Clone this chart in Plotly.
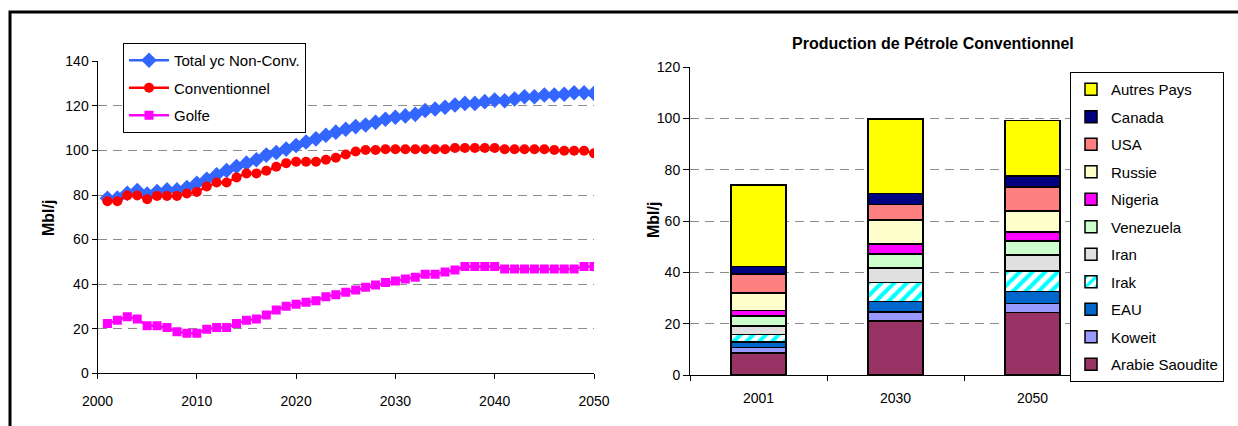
import plotly.graph_objects as go

years = [2001, 2002, 2003, 2004, 2005, 2006, 2007, 2008, 2009, 2010,
         2011, 2012, 2013, 2014, 2015, 2016, 2017, 2018, 2019, 2020,
         2021, 2022, 2023, 2024, 2025, 2026, 2027, 2028, 2029, 2030,
         2031, 2032, 2033, 2034, 2035, 2036, 2037, 2038, 2039, 2040,
         2041, 2042, 2043, 2044, 2045, 2046, 2047, 2048, 2049, 2050]

total_nc = [78.5, 78.6, 80.8, 82.0, 80.4, 81.6, 82.3, 82.3, 83.4, 85.3,
            87.1, 89.1, 91.0, 92.8, 94.3, 95.8, 97.9, 99.1, 100.6, 102.2,
            103.8, 105.2, 106.8, 108.2, 109.5, 110.7, 111.4, 112.6, 114.0, 114.9,
            115.5, 116.2, 117.9, 118.6, 119.4, 120.4, 121.1, 121.1, 121.9, 122.6,
            122.3, 123.1, 124.1, 124.1, 124.9, 124.9, 125.2, 125.9, 125.9, 125.6]

conventionnel = [77.2, 77.2, 79.8, 79.8, 78.1, 79.6, 79.6, 79.6, 80.7, 81.4,
                 83.8, 85.6, 85.6, 87.9, 89.7, 89.7, 90.9, 92.7, 94.3, 94.9,
                 94.9, 94.9, 95.8, 96.7, 98.2, 99.5, 100.2, 100.2, 100.5, 100.5,
                 100.5, 100.5, 100.5, 100.5, 100.5, 101.1, 101.1, 101.1, 101.1, 101.1,
                 100.5, 100.5, 100.5, 100.5, 100.5, 100.2, 99.9, 99.9, 99.9, 98.7]

golfe = [22.3, 23.8, 25.4, 24.4, 21.3, 21.3, 20.5, 18.7, 18.0, 18.0,
         19.8, 20.5, 20.5, 22.3, 23.8, 24.4, 26.2, 28.4, 30.1, 31.0,
         31.9, 32.6, 34.4, 35.2, 36.4, 37.4, 38.6, 39.6, 40.7, 41.4,
         42.3, 43.1, 44.4, 44.4, 45.5, 46.4, 47.9, 47.9, 47.9, 47.9,
         46.8, 46.8, 46.8, 46.8, 46.8, 46.8, 46.8, 46.8, 47.9, 47.9]

bar_years = ["2001", "2030", "2050"]
arabie = [8.6, 21.0, 24.4]
koweit = [2.1, 3.5, 3.4]
eau = [2.1, 4.1, 4.7]
irak = [2.9, 7.5, 8.0]
iran = [3.3, 5.5, 6.3]
venezuela = [4.0, 5.5, 5.5]
nigeria = [2.1, 3.9, 3.5]
russie = [6.9, 9.4, 8.1]
usa = [7.3, 6.1, 9.4]
canada = [2.9, 4.3, 4.3]
autres = [31.9, 28.9, 21.5]

W, H = 1238, 426
FONT = "Liberation Sans, Arial, sans-serif"


def px(x):
    return x / W


def py(y):
    return (H - y) / H


fig = go.Figure()

line_series = [
    ("Total yc Non-Conv.", total_nc, "#3366FF", "diamond", 12),
    ("Conventionnel", conventionnel, "#FF0000", "circle", 10),
    ("Golfe", golfe, "#FF00FF", "square", 9),
]
for i, (name, vals, col, sym, sz) in enumerate(line_series):
    fig.add_trace(go.Scatter(
        x=years, y=vals, name=name, mode="lines+markers",
        line=dict(color=col, width=2.5),
        marker=dict(color=col, symbol=sym, size=sz),
        xaxis="x", yaxis="y", legend="legend", legendgroup=name, legendrank=i + 1,
    ))

bar_series = [
    ("Arabie Saoudite", arabie, "#993366", False),
    ("Koweit", koweit, "#9999FF", False),
    ("EAU", eau, "#0066CC", False),
    ("Irak", irak, "#FFFFFF", True),
    ("Iran", iran, "#E0E0E0", False),
    ("Venezuela", venezuela, "#CCFFCC", False),
    ("Nigeria", nigeria, "#FF00FF", False),
    ("Russie", russie, "#FFFFCC", False),
    ("USA", usa, "#FF8080", False),
    ("Canada", canada, "#000080", False),
    ("Autres Pays", autres, "#FFFF00", False),
]
n = len(bar_series)
for i, (name, vals, col, pat) in enumerate(bar_series):
    marker = dict(color=col, line=dict(color="black", width=1.5))
    if pat:
        marker["pattern"] = dict(shape="/", fgcolor="#00FFFF", bgcolor="#FFFFFF",
                                 size=9, solidity=0.45)
    fig.add_trace(go.Bar(
        x=bar_years, y=vals, name=name, marker=marker, width=0.4,
        xaxis="x2", yaxis="y2", legend="legend2", legendgroup=name,
        legendrank=n - i,
    ))

grid = dict(showgrid=True, gridcolor="#8C8C8C", gridwidth=1, griddash="9px,6px")
tickfont = dict(family=FONT, size=14, color="black")

fig.update_layout(
    width=W, height=H,
    margin=dict(l=0, r=0, t=0, b=0),
    paper_bgcolor="white", plot_bgcolor="white",
    template="none",
    barmode="stack",
    font=dict(family=FONT, color="black"),
    xaxis=dict(domain=[px(97.5), px(594)], range=[2000, 2050], dtick=10,
               tick0=2000, showgrid=False, zeroline=False, showline=True,
               linecolor="black", linewidth=1, ticks="outside", ticklen=5,
               tickcolor="black", tickfont=tickfont, ticklabelstandoff=10,
               automargin=False, anchor="y"),
    yaxis=dict(domain=[py(373.3), py(61.3)], range=[0, 140], dtick=20,
               zeroline=False, showline=True, linecolor="black", linewidth=1,
               ticks="outside", ticklen=5, tickcolor="black", tickfont=tickfont,
               automargin=False, anchor="x", **grid),
    xaxis2=dict(domain=[px(690), px(1101)], type="category", showgrid=False,
                zeroline=False, showline=True, linecolor="black", linewidth=1,
                ticks="outside", ticklen=5, tickcolor="black", tickson="boundaries",
                tickfont=tickfont, ticklabelstandoff=10, automargin=False, anchor="y2"),
    yaxis2=dict(domain=[py(375), py(67)], range=[0, 120], dtick=20,
                zeroline=False, showline=True, linecolor="black", linewidth=1,
                ticks="outside", ticklen=6, tickcolor="black", tickfont=tickfont,
                automargin=False, anchor="x2", **grid),
    legend=dict(x=px(123), y=py(43), xanchor="left", yanchor="top",
                bgcolor="white", bordercolor="black", borderwidth=1,
                font=dict(family=FONT, size=15, color="black"),
                traceorder="grouped", tracegroupgap=5, itemwidth=40),
    legend2=dict(x=px(1224), y=py(72), xanchor="right", yanchor="top",
                 bgcolor="white", bordercolor="black", borderwidth=1,
                 font=dict(family=FONT, size=15, color="black"),
                 traceorder="grouped", tracegroupgap=5, itemwidth=30),
    annotations=[
        dict(text="<b>Production de Pétrole Conventionnel</b>", x=px(933), y=py(43),
             xref="paper", yref="paper", showarrow=False,
             xanchor="center", yanchor="middle",
             font=dict(family=FONT, size=16, color="black")),
        dict(text="<b>Mbl/j</b>", x=px(48), y=py(218), xref="paper", yref="paper",
             showarrow=False, textangle=-90, xanchor="center", yanchor="middle",
             font=dict(family=FONT, size=16, color="black")),
        dict(text="<b>Mbl/j</b>", x=px(653), y=py(220), xref="paper", yref="paper",
             showarrow=False, textangle=-90, xanchor="center", yanchor="middle",
             font=dict(family=FONT, size=16, color="black")),
    ],
    shapes=[
        dict(type="rect", xref="paper", yref="paper", x0=px(10), y0=-0.1,
             x1=1.1, y1=py(12), line=dict(color="black", width=3),
             fillcolor="rgba(0,0,0,0)", layer="above"),
    ],
)

fig.write_html(
    "out.html",
    config={"displayModeBar": False},
    post_script=(
        "document.documentElement.style.overflow='hidden';"
        "document.body.style.margin='0';"
        "document.body.style.overflow='hidden';"
    ),
)
